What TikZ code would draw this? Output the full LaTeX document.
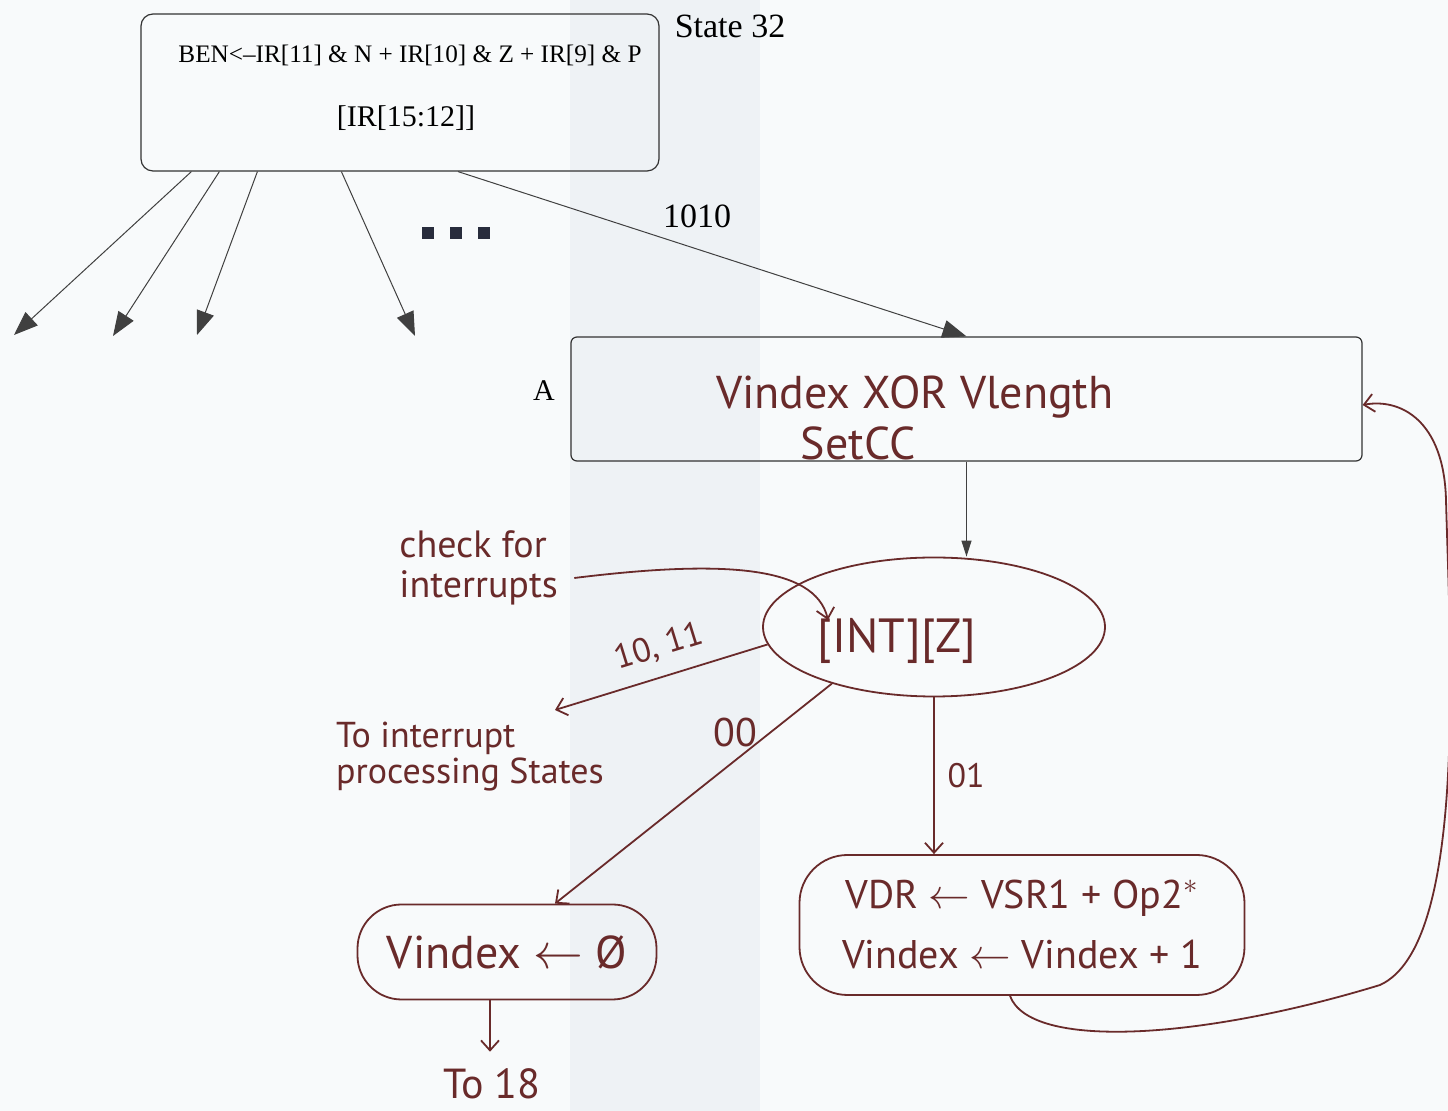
\documentclass[tikz,border=0pt]{standalone}
\usepackage{amsmath}
\usepackage{amssymb}
\usepackage{fontspec}
\setmainfont{Liberation Serif}
\newfontfamily\handfont{PT Sans}
\usetikzlibrary{arrows.meta,shapes.geometric}

\definecolor{ink}{RGB}{105,42,42}
\definecolor{paper}{RGB}{248,250,251}
\definecolor{paperband}{RGB}{238,242,245}
\definecolor{dotcol}{RGB}{40,44,60}

\tikzset{
	box/.style={draw=black!80,line width=0.6pt,rounded corners=6pt},
	tri/.style={draw=black!75,line width=0.5pt,-{Triangle[length=12pt,width=9pt]}},
	hand/.style={ink,font=\handfont\fontsize{#1}{#1}\selectfont},
	hand/.default=20,
	handbox/.style={draw=ink,line width=0.9pt},
	harr/.style={draw=ink,line width=0.9pt,-{Straight Barb[length=5pt,width=9pt]}},
}

\begin{document}
\begin{tikzpicture}[x=0.5pt,y=-0.5pt]
			\fill[paper] (0,0) rectangle (1448,1111);
			\fill[paperband] (570,0) rectangle (760,1111);
			\useasboundingbox (0,0) rectangle (1448,1111);
			\node[box,minimum width=259pt,minimum height=78.5pt] (ben) at (400,92.5) {};
			\node[font=\fontsize{12.6}{14}\selectfont] (benrule) at (410,55) {BEN<–IR[11] \& N + IR[10] \& Z + IR[9] \& P};
			\node[font=\fontsize{15}{18}\selectfont] (irsel) at (406,118) {[IR[15:12]]};
			\node[font=\fontsize{17}{20}\selectfont] (state) at (730,26) {State 32};
			\coordinate (e1) at (14,335);
			\coordinate (e2) at (113,336);
			\coordinate (e3) at (197,335);
			\coordinate (e4) at (415,336);
			\draw[tri] (ben.south west) ++(51,0) -- (e1);
			\draw[tri] (ben.south west) ++(79,0) -- (e2);
			\draw[tri] (ben.south west) ++(117,0) -- (e3);
			\draw[tri] (ben.south west) ++(201,0) -- (e4);
			\foreach \dx in {428,456,484} \fill[dotcol] (\dx-6,227) rectangle (\dx+6,239);
			\node[box,rounded corners=3pt,minimum width=395.5pt,minimum height=62pt] (boxa) at (966.5,399) {};
			\node[font=\fontsize{15}{18}\selectfont] (alabel) at (544,391) {A};
			\draw[tri] (ben.south) ++(58,0) -- (boxa.north) node[pos=0.47,above=7pt,black,font=\fontsize{17}{20}\selectfont] {1010};
			\node[hand=23] (xor) at (915,397) {Vindex XOR Vlength};
			\node[hand=23] (setcc) at (858,443) {SetCC};
			\node[handbox,ellipse,inner sep=0pt,minimum width=171pt,minimum height=69.5pt] (int) at (934,627) {};
			\node[hand=24] (intlbl) at (897,641) {[INT][Z]};
			\draw[draw=black!75,line width=0.5pt,-{Triangle[length=8pt,width=5pt]}] (boxa.south) -- (boxa.south |- int.north);
			\node[hand=19,align=left,anchor=west,inner sep=1pt] (check) at (397,568) {check for\\[1pt]interrupts};
			\draw[harr] (check.east) ++(14,10) .. controls (720,560) and (815,565) .. (828,620);
			\coordinate (irq) at (555,710);
			\draw[harr] (int.186) -- (irq) node[pos=0.47,above=6pt,sloped,hand=17,inner sep=1pt] {10, 11};
			\node[hand=18,align=left] (irqlbl) at (470,757) {To interrupt\\ processing States};
			\node[handbox,rounded corners=22pt,minimum width=149.5pt,minimum height=47.5pt,hand=23] (vzero) at (507,952) {Vindex $\leftarrow$ Ø};
			\node[handbox,rounded corners=24pt,minimum width=222.5pt,minimum height=70pt,align=center,font=\handfont\fontsize{20}{30}\selectfont,text=ink] (vadd) at (1022,925) {VDR $\leftarrow$ VSR1 + Op2$^{*}$\\ Vindex $\leftarrow$ Vindex + 1};
			\draw[harr] (int.209) -- ([xshift=24pt]vzero.north);
			\node[hand=20] (lbl00) at (735,733) {00};
			\draw[harr] (int.south) -- (int.south |- vadd.north) node[midway,right=3pt,hand=17] {01};
			\draw[harr] ([xshift=-6pt]vadd.south) .. controls (1030,1050) and (1200,1040) .. (1380,985) .. controls (1468,945) and (1450,650) .. (1446,500) .. controls (1444,420) and (1400,398) .. (boxa.east |- 0,405);
			\node[hand=21] (to18) at (492,1084) {To 18};
			\draw[harr] (vzero.south -| 490,0) -- ([yshift=5pt]to18.north -| 490,0);
		\end{tikzpicture}
\end{document}
